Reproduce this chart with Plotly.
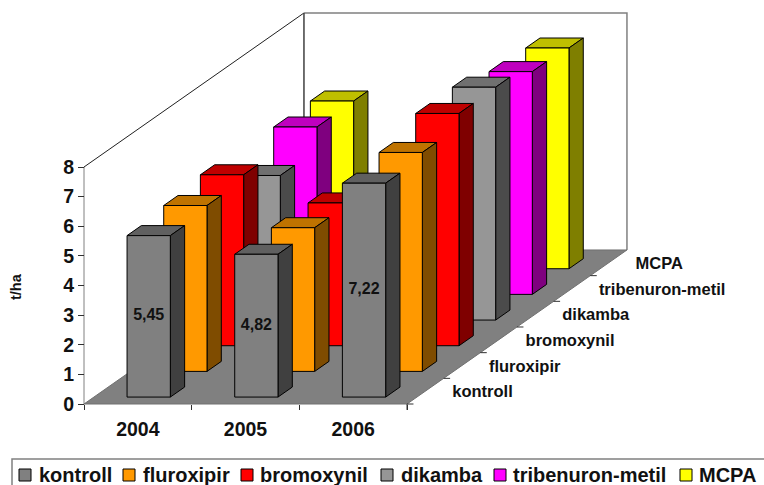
import plotly.graph_objects as go

years = ["2004", "2005", "2006"]
series = ["kontroll", "fluroxipir", "bromoxynil", "dikamba", "tribenuron-metil", "MCPA"]
kontroll = [5.45, 4.82, 7.22]
fluroxipir = [5.60, 4.85, 7.39]
bromoxynil = [5.77, 4.82, 7.84]
dikamba = [4.88, 4.50, 7.86]
tribenuron = [5.65, 4.50, 7.52]
mcpa = [5.66, 4.50, 7.45]
values = [kontroll, fluroxipir, bromoxynil, dikamba, tribenuron, mcpa]
front = ["#808080", "#FF9900", "#FF0000", "#969696", "#FF00FF", "#FFFF00"]
top = ["#606060", "#BF7300", "#BF0000", "#707070", "#BF00BF", "#BFBF00"]
side = ["#404040", "#7F4C00", "#7F0000", "#4B4B4B", "#7F007F", "#7F7F00"]
labels = ["5,45", "4,82", "7,22"]

FONT = "Liberation Sans"
W, H = 764, 485
X0, Y0 = 84, 404          # page position of category 0 / value 0
PX_CAT, PX_VAL = 323 / 3, 237 / 8
DX, DY = 0.3405, 0.8665   # oblique projection of one depth step
TXT = "#111111"

legend_key_left = [19, 123, 241, 381, 494, 680]
legend_text_left = [38, 142, 259, 400, 512, 698]


def P(c, v, d):
    return c + d * DX, v + d * DY


fig = go.Figure()


def line(pts, color, width=1):
    xs, ys = zip(*[P(*p) for p in pts])
    fig.add_trace(go.Scatter(x=xs, y=ys, mode="lines", showlegend=False, hoverinfo="skip",
                             line=dict(color=color, width=width)))


def face(pts, fill, lc="#000000", lw=1):
    xs, ys = zip(*[P(*p) for p in pts + pts[:1]])
    fig.add_trace(go.Scatter(x=xs, y=ys, mode="lines", fill="toself", fillcolor=fill,
                             showlegend=False, hoverinfo="skip",
                             line=dict(color=lc, width=lw)))


# walls and floor
line([(0, 8, 6), (3, 8, 6), (3, 0, 6)], "#808080", 1.5)
line([(0, 0, 0), (0, 8, 0)], "#808080", 1)
line([(0, 8, 0), (0, 8, 6)], "#202020", 1)
line([(0, 8, 6), (0, 0, 6)], "#404040", 1.5)
face([(0, 0, 0), (3, 0, 0), (3, 0, 6), (0, 0, 6)], "#808080", "#707070", 1)

# bars, painted back to front
C0, C1, D0, D1 = 0.308, 0.71, 0.27, 0.66
for s in range(5, -1, -1):
    for i in range(3):
        v = values[s][i]
        a, b = i + C0, i + C1
        d0, d1 = s + D0, s + D1
        face([(a, v, d0), (b, v, d0), (b, v, d1), (a, v, d1)], top[s])
        face([(b, 0, d0), (b, v, d0), (b, v, d1), (b, 0, d1)], side[s])
        face([(a, 0, d0), (b, 0, d0), (b, v, d0), (a, v, d0)], front[s])

# value labels on the front bars
lx, ly = [], []
for i in range(3):
    x, y = P(i + (C0 + C1) / 2, kontroll[i] / 2, D0)
    lx.append(x)
    ly.append(y)
fig.add_trace(go.Scatter(x=lx, y=ly, mode="text", text=labels, showlegend=False, hoverinfo="skip",
                         textposition="middle center",
                         textfont=dict(family=FONT, size=16, color=TXT, weight="bold")))

# depth axis ticks and labels
for k in range(0, 6):
    line([(3, 0, k), (3.06, 0, k)], "#303030", 1)
line([(3, 0, 0), (3, -0.2, 0)], "#303030", 1)
sx, sy = [], []
for k in range(6):
    x, y = P(3.25, -0.07, k + 0.5)
    sx.append(x)
    sy.append(y)
fig.add_trace(go.Scatter(x=sx, y=sy, mode="text", text=series, showlegend=False, hoverinfo="skip",
                         textposition="middle right", cliponaxis=False,
                         textfont=dict(family=FONT, size=16.5, color=TXT, weight="bold")))

shapes = [dict(type="rect", xref="paper", yref="paper", x0=12 / W, x1=1.05,
               y0=-0.05, y1=1 - 459 / H, line=dict(color="#808080", width=1.5),
               fillcolor="white")]
annotations = [dict(text="t/ha", x=16 / W, y=1 - 287 / H, xref="paper", yref="paper",
                    showarrow=False, textangle=-90, xanchor="center", yanchor="middle",
                    font=dict(family=FONT, size=14.5, weight="bold", color=TXT))]
for s in range(6):
    shapes.append(dict(type="rect", xref="paper", yref="paper",
                       x0=legend_key_left[s] / W, x1=(legend_key_left[s] + 12) / W,
                       y0=1 - 481 / H, y1=1 - 469 / H,
                       fillcolor=front[s], line=dict(color="#000000", width=1)))
    annotations.append(dict(text=series[s], x=(legend_text_left[s] - 1) / W, y=1 - 475 / H,
                            xref="paper", yref="paper", showarrow=False,
                            xanchor="left", yanchor="middle",
                            font=dict(family=FONT, size=20, weight="bold", color=TXT)))

fig.update_layout(
    width=W, height=H,
    margin=dict(l=0, r=0, t=0, b=0, autoexpand=False),
    paper_bgcolor="white", plot_bgcolor="white",
    font=dict(family=FONT, color=TXT),
    showlegend=False,
    xaxis=dict(range=[-X0 / PX_CAT, (W - X0) / PX_CAT], domain=[0, 1],
               anchor="free", position=(H - Y0) / H,
               showgrid=False, zeroline=False, showline=False,
               tickmode="array", tickvals=[0.5, 1.5, 2.5], ticktext=years,
               ticks="outside", ticklen=8, tickcolor="rgba(0,0,0,0)",
               tickfont=dict(family=FONT, size=19.5, weight="bold", color=TXT),
               minor=dict(tickmode="array", tickvals=[0, 1, 2, 3], ticks="outside",
                          ticklen=5, tickcolor="#303030", showgrid=False)),
    yaxis=dict(range=[-(H - Y0) / PX_VAL, Y0 / PX_VAL], domain=[0, 1],
               anchor="free", position=X0 / W,
               showgrid=False, zeroline=False, showline=False,
               tickmode="array", tickvals=list(range(9)),
               ticks="outside", ticklen=6, tickcolor="#303030",
               tickfont=dict(family=FONT, size=19.5, weight="bold", color=TXT)),
    shapes=shapes,
    annotations=annotations,
)

fig.write_html("out.html", config={"displayModeBar": False},
               post_script="document.body.style.margin='0';")
